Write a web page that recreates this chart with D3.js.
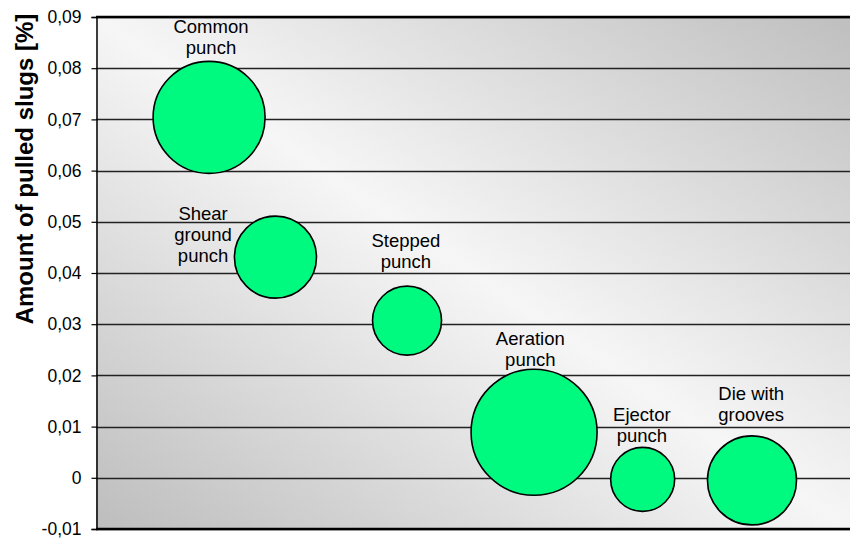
<!DOCTYPE html>
<html>
<head>
<meta charset="utf-8">
<script src="https://cdn.jsdelivr.net/npm/d3@7"></script>
<style>
  html, body { margin: 0; padding: 0; background: #ffffff; }
  svg { display: block; }
  text { font-family: "Liberation Sans", Arial, sans-serif; fill: #000; }
</style>
</head>
<body>
<svg id="chart" width="850" height="539"></svg>
<script>
// ---- data ----
const categories = [
  ["Common", "punch"],
  ["Shear", "ground", "punch"],
  ["Stepped", "punch"],
  ["Aeration", "punch"],
  ["Ejector", "punch"],
  ["Die with", "grooves"]
];
const xValues = [15.0, 23.8, 41.25, 58.1, 72.5, 87.0];          // hidden x position (arbitrary units)
const yValues = [0.0704, 0.0431, 0.0307, 0.0089, -0.0003, -0.0005]; // amount of pulled slugs [%]
const sizeValues = [79, 42.4, 30, 100, 25.8, 49.9];              // bubble size
const labelX = [15.25, 14.2, 41.1, 57.6, 72.4, 86.9];            // label anchors (data units)
const labelY = [0.0869, 0.0504, 0.0451, 0.0259, 0.0111, 0.0152];
const yTicks = [-0.01, 0, 0.01, 0.02, 0.03, 0.04, 0.05, 0.06, 0.07, 0.08, 0.09];
const yTickLabels = ["-0,01", "0", "0,01", "0,02", "0,03", "0,04", "0,05", "0,06", "0,07", "0,08", "0,09"];
const yTitle = "Amount of pulled slugs [%]";

// ---- layout ----
const W = 850, H = 539;
const L = 96, R = 850, T = 17, B = 529;
const svg = d3.select("#chart");

const x = d3.scaleLinear().domain([0, 100]).range([L, R]);
const y = d3.scaleLinear().domain([-0.01, 0.09]).range([B, T]);
const r = d3.scaleSqrt().domain([0, 100]).range([0, 63]);

// background gradient
const defs = svg.append("defs");
const grad = defs.append("linearGradient").attr("id", "bg")
  .attr("x1", 0).attr("y1", 1).attr("x2", 1).attr("y2", 0);
grad.append("stop").attr("offset", 0).attr("stop-color", "#bdbdbd");
grad.append("stop").attr("offset", 0.5).attr("stop-color", "#f6f6f6");
grad.append("stop").attr("offset", 1).attr("stop-color", "#bfbfbf");

svg.append("rect").attr("x", L).attr("y", T).attr("width", R - L).attr("height", B - T)
  .attr("fill", "url(#bg)");

// gridlines
svg.append("g").selectAll("line").data(yTicks).join("line")
  .attr("x1", L).attr("x2", R)
  .attr("y1", d => Math.round(y(d)) + 0.5).attr("y2", d => Math.round(y(d)) + 0.5)
  .attr("stroke", "#222").attr("stroke-width", 1.3);

// top and bottom heavy lines
svg.append("line").attr("x1", L).attr("x2", R).attr("y1", y(0.09)).attr("y2", y(0.09))
  .attr("stroke", "#000").attr("stroke-width", 2.5);
svg.append("line").attr("x1", L).attr("x2", R).attr("y1", y(-0.01)).attr("y2", y(-0.01))
  .attr("stroke", "#000").attr("stroke-width", 2.5);

// y axis
const yAxis = d3.axisLeft(y).tickValues(yTicks)
  .tickFormat((d, i) => yTickLabels[i]).tickSize(5).tickPadding(10);
const gy = svg.append("g").attr("transform", `translate(${L + 0.5},0)`).call(yAxis);
gy.select(".domain").attr("stroke", "#000").attr("stroke-width", 1.5);
gy.selectAll(".tick line").attr("stroke", "#000").attr("stroke-width", 1.2);
gy.selectAll(".tick text").attr("font-size", 17.5).attr("fill", "#000")
  .attr("font-family", "'Liberation Sans', Arial, sans-serif");

// y title
svg.append("text")
  .attr("transform", "translate(33,169) rotate(-90)")
  .attr("text-anchor", "middle")
  .attr("font-size", 24).attr("font-weight", "bold")
  .text(yTitle);

// bubbles
const data = categories.map((c, i) => ({
  label: c, x: xValues[i], y: yValues[i], s: sizeValues[i], lx: labelX[i], ly: labelY[i]
}));
svg.append("g").selectAll("circle").data(data).join("circle")
  .attr("cx", d => x(d.x)).attr("cy", d => y(d.y)).attr("r", d => r(d.s))
  .attr("fill", "#00fa80").attr("stroke", "#000").attr("stroke-width", 1.6);

// labels
const lg = svg.append("g");
data.forEach(d => {
  const t = lg.append("text").attr("text-anchor", "middle").attr("font-size", 18.5)
    .attr("x", x(d.lx)).attr("y", y(d.ly));
  d.label.forEach((line, j) => {
    t.append("tspan").attr("x", x(d.lx)).attr("dy", j === 0 ? 0 : 21).text(line);
  });
});
</script>
</body>
</html>
